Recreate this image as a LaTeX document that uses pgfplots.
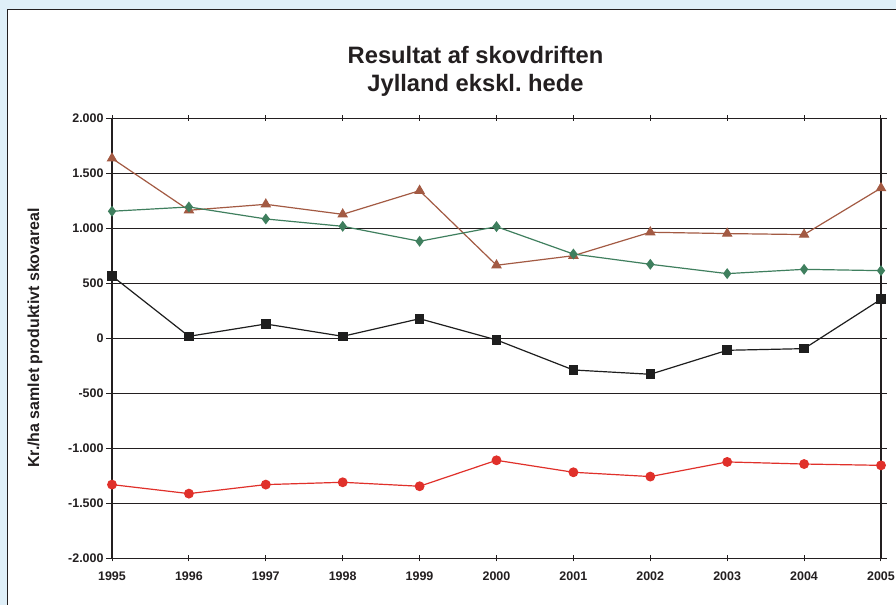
\documentclass[border=0pt]{standalone}
\usepackage{pgfplots}
\pgfplotsset{compat=1.18}
\usepackage{fontspec}
\setmainfont{Liberation Sans}
\frenchspacing
\definecolor{bgblue}{HTML}{DFEFF8}
\definecolor{axgray}{HTML}{231F20}
\definecolor{cbrown}{HTML}{A35A43}
\definecolor{cgreen}{HTML}{3F7F5E}
\definecolor{cred}{HTML}{E0302A}
\definecolor{cblack}{HTML}{1E1E1E}
\begin{document}
\begin{tikzpicture}
\path[use as bounding box] (0bp,0bp) rectangle (896bp,605bp);
\fill[bgblue] (0bp,0bp) rectangle (896bp,605bp);
\filldraw[fill=white, draw=axgray, line width=1.5bp] (7.5bp,-10bp) rectangle (905bp,595.5bp);
\node[font=\bfseries\fontsize{23.8}{28}\selectfont, text=axgray, anchor=base] at (475.5bp,541.7bp) {Resultat af skovdriften};
\node[font=\bfseries\fontsize{23.8}{28}\selectfont, text=axgray, anchor=base] at (475.5bp,513.2bp) {Jylland ekskl. hede};
\node[font=\bfseries\fontsize{16}{18}\selectfont, text=axgray, rotate=90] at (35bp,267bp) {Kr./ha samlet produktivt skovareal};
\begin{axis}[
  at={(112bp,46.7bp)}, anchor=south west,
  scale only axis, width=769bp, height=440bp,
  xmin=1995, xmax=2005, ymin=-2000, ymax=2000,
  axis line style={draw=axgray, line width=1.1bp},
  xtick={1995,...,2005},
  xticklabels={1995,1996,1997,1998,1999,2000,2001,2002,2003,2004,2005},
  ytick={-2000,-1500,...,2000},
  yticklabels={-2.000,-1.500,-1.000,-500,0,500,1.000,1.500,2.000},
  ymajorgrids,
  major grid style={draw=axgray, line width=1.2bp},
  tick style={draw=axgray, line width=0.9bp},
  major tick length=6bp,
  xtick align=center, ytick align=outside,
  ticklabel style={font=\bfseries\fontsize{12.5}{14}\selectfont, text=axgray},
  yticklabel style={xshift=1bp},
  xticklabel style={yshift=-7bp},
  clip=false,
]
\addplot[cbrown, line width=1.2bp, mark=triangle*, mark size=5bp, mark options={fill=cbrown, draw=cbrown}] coordinates {
(1995,1636) (1996,1164) (1997,1218) (1998,1127) (1999,1342) (2000,664)
(2001,751) (2002,964) (2003,952) (2004,943) (2005,1366)};
\addplot[cgreen, line width=1.2bp, mark=diamond*, mark size=4.5bp, mark options={fill=cgreen, draw=cgreen}] coordinates {
(1995,1155) (1996,1194) (1997,1085) (1998,1018) (1999,882) (2000,1015)
(2001,766) (2002,673) (2003,588) (2004,627) (2005,615)};
\addplot[cblack, line width=1.2bp, mark=square*, mark size=4.2bp, mark options={fill=cblack, draw=cblack}] coordinates {
(1995,567) (1996,18) (1997,130) (1998,18) (1999,178) (2000,-15)
(2001,-288) (2002,-327) (2003,-109) (2004,-94) (2005,355)};
\addplot[cred, line width=1.2bp, mark=*, mark size=4.3bp, mark options={fill=cred, draw=cred}] coordinates {
(1995,-1330) (1996,-1412) (1997,-1330) (1998,-1309) (1999,-1345) (2000,-1109)
(2001,-1218) (2002,-1257) (2003,-1124) (2004,-1143) (2005,-1155)};
\end{axis}
\end{tikzpicture}
\end{document}
